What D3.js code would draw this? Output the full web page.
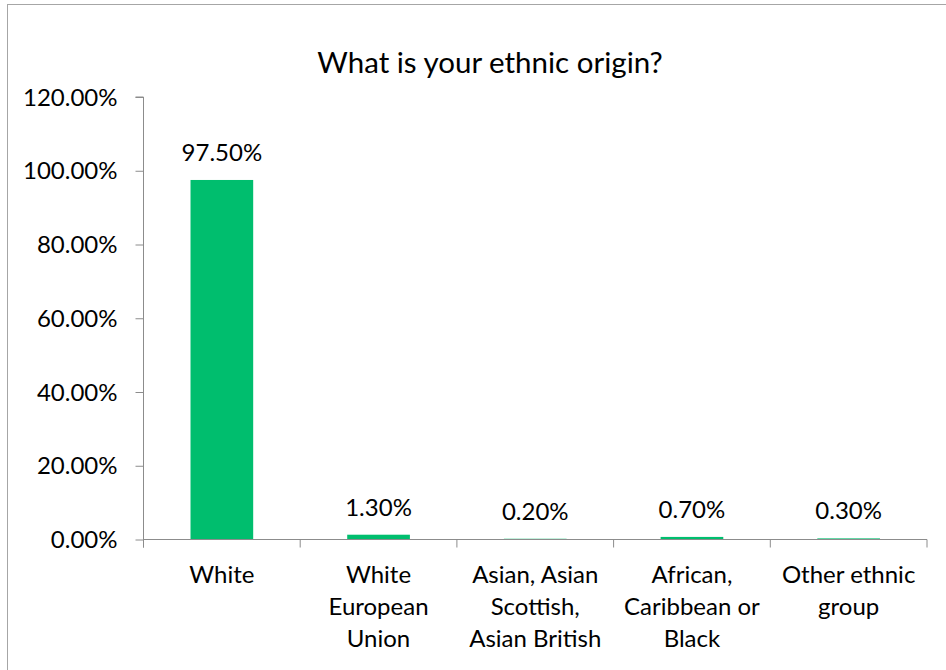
<!DOCTYPE html>
<html><head><meta charset="utf-8">
<script src="https://cdn.jsdelivr.net/npm/d3@7"></script>
<style>
html,body{margin:0;padding:0;background:#fff;}
svg{display:block;font-family:Lato,"Open Sans",sans-serif;}
</style></head>
<body>
<svg id="chart" width="946" height="670"></svg>
<script>
const title = "What is your ethnic origin?";
const categories = [
  ["White"],
  ["White", "European", "Union"],
  ["Asian, Asian", "Scottish,", "Asian British"],
  ["African,", "Caribbean or", "Black"],
  ["Other ethnic", "group"]
];
const values = [97.5, 1.3, 0.2, 0.7, 0.3];
const valueLabels = ["97.50%", "1.30%", "0.20%", "0.70%", "0.30%"];
const yTicks = [0, 20, 40, 60, 80, 100, 120];

const svg = d3.select("#chart");
const axisColor = "#8c8c8c";
const barColor = "#00be6e";
const labelSize = 24;

// outer chart border (extends beyond the crop)
svg.append("rect").attr("x", 7.5).attr("y", 4.5).attr("width", 1000).attr("height", 700)
  .attr("fill", "none").attr("stroke", "#a6a6a6").attr("stroke-width", 1);

const plot = {left: 143.5, right: 927, top: 97, bottom: 539.5};
const x = d3.scaleBand().domain(d3.range(categories.length)).range([plot.left, plot.right]).paddingInner(0.6).paddingOuter(0.3);
const xOuter = d3.scaleBand().domain(d3.range(categories.length)).range([plot.left, plot.right]);
const y = d3.scaleLinear().domain([0, 120]).range([plot.bottom, plot.top]);

svg.append("text").attr("x", 490).attr("y", 73).attr("text-anchor", "middle")
  .attr("font-size", 29.5).attr("fill", "#000").text(title);

// y axis
const yAxis = d3.axisLeft(y).tickValues(yTicks).tickSize(8).tickPadding(18)
  .tickFormat(d => d.toFixed(2) + "%");
const gy = svg.append("g").attr("transform", `translate(${plot.left},0)`).call(yAxis);
gy.select(".domain").attr("stroke", axisColor).attr("d", `M-8,${y(120)}H0V${plot.bottom + 8}`);
gy.selectAll(".tick line").attr("stroke", axisColor);
gy.selectAll(".tick text").attr("font-size", labelSize).attr("fill", "#000").attr("font-family", "Lato")
  .attr("dy", "0.34em");

// bars
svg.append("g").selectAll("rect").data(values).join("rect")
  .attr("x", (d, i) => x(i)).attr("width", x.bandwidth())
  .attr("y", d => y(d)).attr("height", d => y(0) - y(d))
  .attr("fill", barColor);

// x axis
const bounds = d3.range(categories.length + 1).map(i => plot.left + i * xOuter.step());
const gx = svg.append("g");
gx.append("path").attr("d", `M${plot.left},${plot.bottom}H${plot.right}`).attr("stroke", axisColor).attr("fill", "none");
gx.selectAll("line").data(bounds).join("line")
  .attr("x1", d => d).attr("x2", d => d).attr("y1", plot.bottom).attr("y2", plot.bottom + 8)
  .attr("stroke", axisColor);

// category labels
const lab = svg.append("g").selectAll("text").data(categories).join("text")
  .attr("text-anchor", "middle").attr("font-size", labelSize).attr("fill", "#000");
lab.each(function(lines, i) {
  d3.select(this).selectAll("tspan").data(lines).join("tspan")
    .attr("x", x(i) + x.bandwidth() / 2)
    .attr("y", (d, j) => 583 + j * 32)
    .text(d => d);
});

// value labels
svg.append("g").selectAll("text").data(values).join("text")
  .attr("x", (d, i) => x(i) + x.bandwidth() / 2)
  .attr("y", d => y(d) - 19)
  .attr("text-anchor", "middle").attr("font-size", labelSize).attr("fill", "#000")
  .text((d, i) => valueLabels[i]);
</script>
</body></html>
